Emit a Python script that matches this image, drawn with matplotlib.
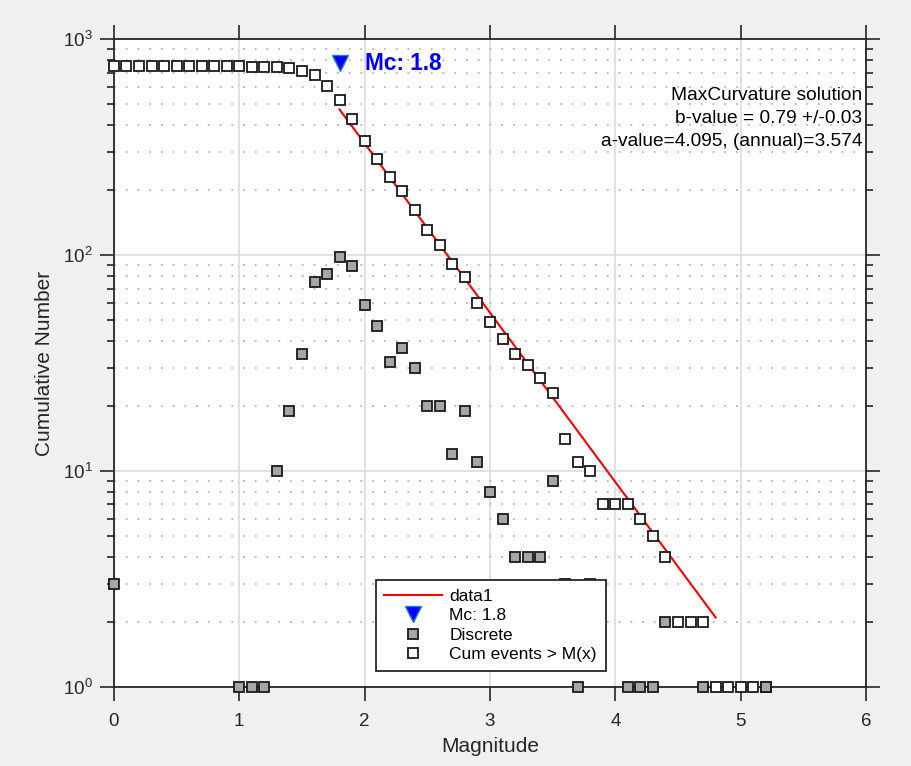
import numpy as np
import matplotlib
matplotlib.use("Agg")
import matplotlib.pyplot as plt
from matplotlib.lines import Line2D

plt.rcParams['font.family'] = ['Liberation Sans', 'DejaVu Sans']
plt.rcParams['mathtext.fontset'] = 'custom'
plt.rcParams['mathtext.rm'] = 'Liberation Sans'
plt.rcParams['mathtext.it'] = 'Liberation Sans'

# magnitude bins
mags = [0.0, 0.1, 0.2, 0.3, 0.4, 0.5, 0.6, 0.7, 0.8, 0.9, 1.0, 1.1, 1.2, 1.3,
        1.4, 1.5, 1.6, 1.7, 1.8, 1.9, 2.0, 2.1, 2.2, 2.3, 2.4, 2.5, 2.6, 2.7,
        2.8, 2.9, 3.0, 3.1, 3.2, 3.3, 3.4, 3.5, 3.6, 3.7, 3.8, 3.9, 4.0, 4.1,
        4.2, 4.3, 4.4, 4.5, 4.6, 4.7, 4.8, 4.9, 5.0, 5.1, 5.2]

# cumulative events > M(x)
cum_n = [750, 747, 747, 747, 747, 747, 747, 747, 747, 747, 747, 746, 745, 744,
         734, 715, 680, 605, 523, 425, 336, 277, 230, 198, 161, 131, 111, 91,
         79, 60, 49, 41, 35, 31, 27, 23, 14, 11, 10, 7, 7, 7,
         6, 5, 4, 2, 2, 2, 1, 1, 1, 1, 1]

# discrete counts (zeros are not drawn on the log axis)
disc_n = [3, 0, 0, 0, 0, 0, 0, 0, 0, 0, 1, 1, 1, 10,
          19, 35, 75, 82, 98, 89, 59, 47, 32, 37, 30, 20, 20, 12,
          19, 11, 8, 6, 4, 4, 4, 9, 3, 1, 3, 0, 0, 1,
          1, 1, 2, 0, 0, 1, 0, 0, 0, 0, 1]

# fitted line end points
fit_m = [1.8, 4.8]
fit_n = [472, 2.1]

mc = 1.8
mc_n = 771

info = ["MaxCurvature solution",
        "b-value = 0.79 +/-0.03",
        "a-value=4.095, (annual)=3.574"]

mags = np.array(mags)
cum_n = np.array(cum_n, dtype=float)
disc_n = np.array(disc_n, dtype=float)
keep = disc_n > 0

fig = plt.figure(figsize=(9.11, 7.66), dpi=100, facecolor='#f0f0f0')
ax = fig.add_axes([0.1251, 0.1031, 0.8255, 0.8459])
ax.set_facecolor('white')

dark = '#262626'
sq = dict(marker='s', markersize=7.8, markeredgewidth=1.3, markeredgecolor='#1a1a1a', linestyle='none')

ax.plot(fit_m, fit_n, color='#ff0000', linewidth=1.5, zorder=3)
ax.plot(mc, mc_n, marker='v', markersize=11, markerfacecolor='#0000ff',
        markeredgecolor='#1f7fc4', markeredgewidth=1.0, linestyle='none', zorder=4)
ax.plot(mags, cum_n, markerfacecolor='white', zorder=4, clip_on=False, **sq)
ax.plot(mags[keep], disc_n[keep], markerfacecolor='#a6a6a6', zorder=5, clip_on=False, **sq)

ax.text(mc + 0.2, mc_n, 'Mc: 1.8', color='#0000ff', fontsize=16.3, fontweight='bold',
        va='center', ha='left', zorder=6)

ax.text(0.9947, 0.926, "\n".join(info), transform=ax.transAxes, ha='right', va='top',
        fontsize=13.8, linespacing=1.45, color='black', zorder=6)

ax.set_yscale('log')
ax.set_xlim(0, 6)
ax.set_ylim(1, 1000)
ax.set_xticks([0, 1, 2, 3, 4, 5, 6])

ax.grid(True, which='major', color='#dcdcdc', linewidth=1.2, linestyle='-')
ax.grid(True, which='minor', axis='y', color='#b8b8b8', linewidth=1.3, linestyle=(0, (1, 5.5)))
ax.set_axisbelow(True)

ax.tick_params(which='both', direction='out', top=True, right=True, colors=dark,
               labelsize=13.5, width=1.2)
ax.tick_params(which='major', length=10)
ax.tick_params(which='minor', length=5)
ax.tick_params(axis='x', which='major', pad=9)
ax.tick_params(axis='y', which='major', pad=5)
ax.tick_params(axis='x', which='minor', bottom=False, top=False)
for s in ax.spines.values():
    s.set_color(dark)
    s.set_linewidth(1.3)

ax.set_xlabel('Magnitude', fontsize=15, color=dark, labelpad=5)
ax.set_ylabel('Cumulative Number', fontsize=15, color=dark, labelpad=7)

handles = [
    Line2D([], [], color='#ff0000', linewidth=1.5),
    Line2D([], [], marker='v', markersize=11, markerfacecolor='#0000ff',
           markeredgecolor='#1f7fc4', linestyle='none'),
    Line2D([], [], markerfacecolor='#a6a6a6', **sq),
    Line2D([], [], markerfacecolor='white', **sq),
]
labels = ['data1', 'Mc: 1.8', 'Discrete', 'Cum events > M(x)']
leg = ax.legend(handles, labels, loc='lower left', bbox_to_anchor=(0.348, 0.025),
                fontsize=12.5, frameon=True, fancybox=False, framealpha=1,
                edgecolor=dark, handlelength=3.3, handletextpad=0.45,
                labelspacing=0.25, borderpad=0.5, borderaxespad=0, numpoints=1)
leg.get_frame().set_linewidth(1.3)
leg.set_zorder(10)

fig.savefig('out.png', dpi=100, facecolor=fig.get_facecolor())
